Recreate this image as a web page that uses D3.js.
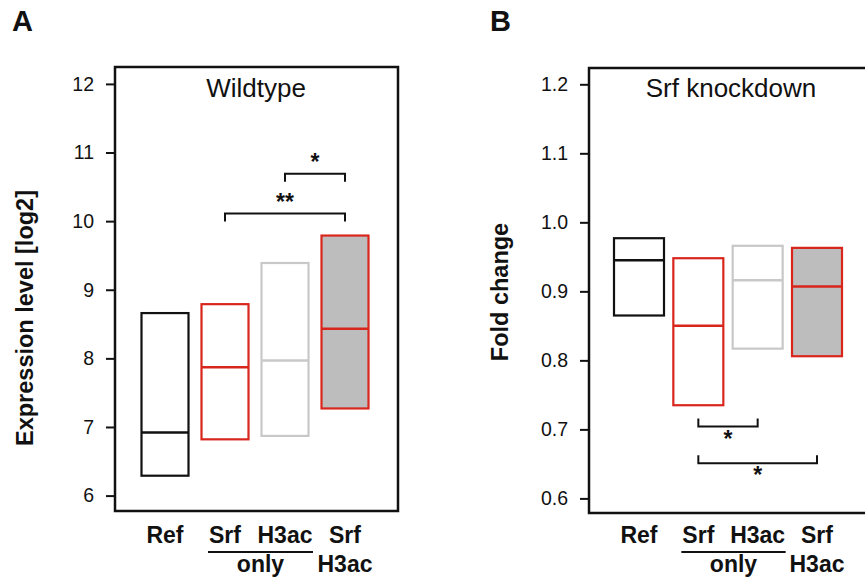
<!DOCTYPE html>
<html lang="en">

<head>
    <meta charset="UTF-8"/>
    <title>D3</title>
    <script src="https://d3js.org/d3.v7.min.js" charset="utf-8"></script>

    <style type="text/css">
        body {
            margin: 0;
            background: #fff;
        }

        text {
            font-family: "Liberation Sans", Arial, sans-serif;
            fill: #111;
        }

        .axis path {
            display: none;
        }

        .axis line {
            stroke: #111;
            stroke-width: 2px;
        }

        .axis text {
            font-size: 19.5px;
        }

        .frame {
            fill: none;
            stroke: #111;
            stroke-width: 2.5px;
        }

        .bracket {
            fill: none;
            stroke: #111;
            stroke-width: 2px;
        }
    </style>
</head>

<body>
<div id="main"></div>
<script type="text/javascript">
    // categories shared by both panels
    var categories = ["Ref", "Srf only", "H3ac only", "Srf H3ac"];
    var strokeColors = ["#111111", "#d9261c", "#c8c8c8", "#d9261c"];
    var fillColors = ["none", "none", "none", "#bdbdbd"];

    // panel A: wildtype expression level [log2]
    var wtLow = [6.29, 6.82, 6.87, 7.27];
    var wtMedian = [6.92, 7.87, 7.97, 8.43];
    var wtHigh = [8.66, 8.79, 9.39, 9.79];
    var wtTicks = [6, 7, 8, 9, 10, 11, 12];
    // brackets: [from index, to index, level, label]
    var wtBrackets = [[2, 3, 10.69, "*"], [1, 3, 10.11, "**"]];

    // panel B: Srf knockdown fold change
    var kdLow = [0.865, 0.735, 0.817, 0.806];
    var kdMedian = [0.945, 0.850, 0.916, 0.907];
    var kdHigh = [0.977, 0.948, 0.966, 0.963];
    var kdTicks = [0.6, 0.7, 0.8, 0.9, 1.0, 1.1, 1.2];
    var kdBrackets = [[1, 2, 0.704, "*"], [1, 3, 0.651, "*"]];

    var svg = d3.select("#main")
        .append("svg")
        .attr("width", 865)
        .attr("height", 577);

    function drawPanel(opt) {
        var g = svg.append("g");

        var x = d3.scalePoint()
            .domain(categories)
            .range(opt.xRange);

        var y = d3.scaleLinear()
            .domain(d3.extent(opt.ticks))
            .range(opt.yRange);

        // frame
        g.append("path")
            .attr("class", "frame")
            .attr("d", "M" + opt.frame[2] + "," + opt.frame[1] + "H" + opt.frame[0] +
                "V" + opt.frame[3] + "H" + opt.frame[2] + (opt.closed ? "Z" : ""));

        // y axis
        g.append("g")
            .attr("class", "axis")
            .attr("transform", "translate(" + opt.frame[0] + ",0)")
            .call(d3.axisLeft(y)
                .tickValues(opt.ticks)
                .tickSize(9)
                .tickPadding(12)
                .tickFormat(opt.format));

        // boxes
        var boxes = g.append("g")
            .selectAll("g.box")
            .data(categories)
            .enter()
            .append("g");

        boxes.append("rect")
            .attr("x", function (d) { return x(d) - opt.boxWidth / 2; })
            .attr("y", function (d, i) { return y(opt.high[i]); })
            .attr("width", opt.boxWidth)
            .attr("height", function (d, i) { return y(opt.low[i]) - y(opt.high[i]); })
            .style("fill", function (d, i) { return fillColors[i]; })
            .style("stroke", function (d, i) { return strokeColors[i]; })
            .style("stroke-width", 2.2);

        boxes.append("line")
            .attr("x1", function (d) { return x(d) - opt.boxWidth / 2; })
            .attr("x2", function (d) { return x(d) + opt.boxWidth / 2; })
            .attr("y1", function (d, i) { return y(opt.median[i]); })
            .attr("y2", function (d, i) { return y(opt.median[i]); })
            .style("stroke", function (d, i) { return strokeColors[i]; })
            .style("stroke-width", 2.5);

        // significance brackets
        var br = g.append("g")
            .selectAll("g.br")
            .data(opt.brackets)
            .enter()
            .append("g");

        br.append("path")
            .attr("class", "bracket")
            .attr("d", function (d) {
                var x1 = x(categories[d[0]]), x2 = x(categories[d[1]]), yy = y(d[2]);
                return "M" + x1 + "," + (yy + opt.hook) + "V" + yy + "H" + x2 + "V" + (yy + opt.hook);
            });

        br.append("text")
            .attr("x", function (d) { return (x(categories[d[0]]) + x(categories[d[1]])) / 2; })
            .attr("y", function (d) { return y(d[2]) + opt.starDy; })
            .attr("text-anchor", "middle")
            .style("font-size", "23px")
            .style("font-weight", "bold")
            .text(function (d) { return d[3]; });

        // title inside the frame
        g.append("text")
            .attr("x", opt.titleX)
            .attr("y", 97)
            .attr("text-anchor", "middle")
            .style("font-size", "26px")
            .text(opt.title);

        // y label
        g.append("text")
            .attr("transform", "translate(" + opt.yLabelX + "," + opt.yLabelY + ") rotate(-90)")
            .attr("text-anchor", "middle")
            .style("font-size", "23.5px")
            .style("font-weight", "bold")
            .text(opt.yLabel);

        // panel letter
        g.append("text")
            .attr("x", opt.letterX)
            .attr("y", 31)
            .style("font-size", "29px")
            .style("font-weight", "bold")
            .text(opt.letter);

        // x labels (two rows, "only" shared under a line)
        var lab = g.append("g")
            .style("font-size", "23px")
            .style("font-weight", "bold")
            .attr("text-anchor", "middle");

        var firstRow = ["Ref", "Srf", "H3ac", "Srf"];
        lab.selectAll("text.r1")
            .data(categories)
            .enter()
            .append("text")
            .attr("x", function (d) { return x(d); })
            .attr("y", 543)
            .text(function (d, i) { return firstRow[i]; });

        var x1 = x(categories[1]) - 17, x2 = x(categories[2]) + 28;
        lab.append("line")
            .attr("x1", x1).attr("x2", x2)
            .attr("y1", 552).attr("y2", 552)
            .style("stroke", "#111")
            .style("stroke-width", 2.2);

        lab.append("text")
            .attr("x", (x1 + x2) / 2)
            .attr("y", 572)
            .text("only");

        lab.append("text")
            .attr("x", x(categories[3]))
            .attr("y", 572)
            .text("H3ac");
    }

    drawPanel({
        letter: "A", letterX: 12,
        title: "Wildtype", titleX: 256,
        yLabel: "Expression level [log2]", yLabelX: 33, yLabelY: 318,
        frame: [115, 67, 398, 511], closed: true,
        xRange: [165, 345], yRange: [495.6, 83.9], boxWidth: 47,
        ticks: wtTicks, format: d3.format("d"),
        low: wtLow, median: wtMedian, high: wtHigh,
        brackets: wtBrackets, hook: 8, starDy: -4
    });

    drawPanel({
        letter: "B", letterX: 490,
        title: "Srf knockdown", titleX: 731,
        yLabel: "Fold change", yLabelX: 508, yLabelY: 292,
        frame: [589, 68, 868, 513], closed: false,
        xRange: [639, 817], yRange: [498.4, 84.3], boxWidth: 50,
        ticks: kdTicks, format: d3.format(".1f"),
        low: kdLow, median: kdMedian, high: kdHigh,
        brackets: kdBrackets, hook: -8, starDy: 20
    });
</script>
</body>

</html>
